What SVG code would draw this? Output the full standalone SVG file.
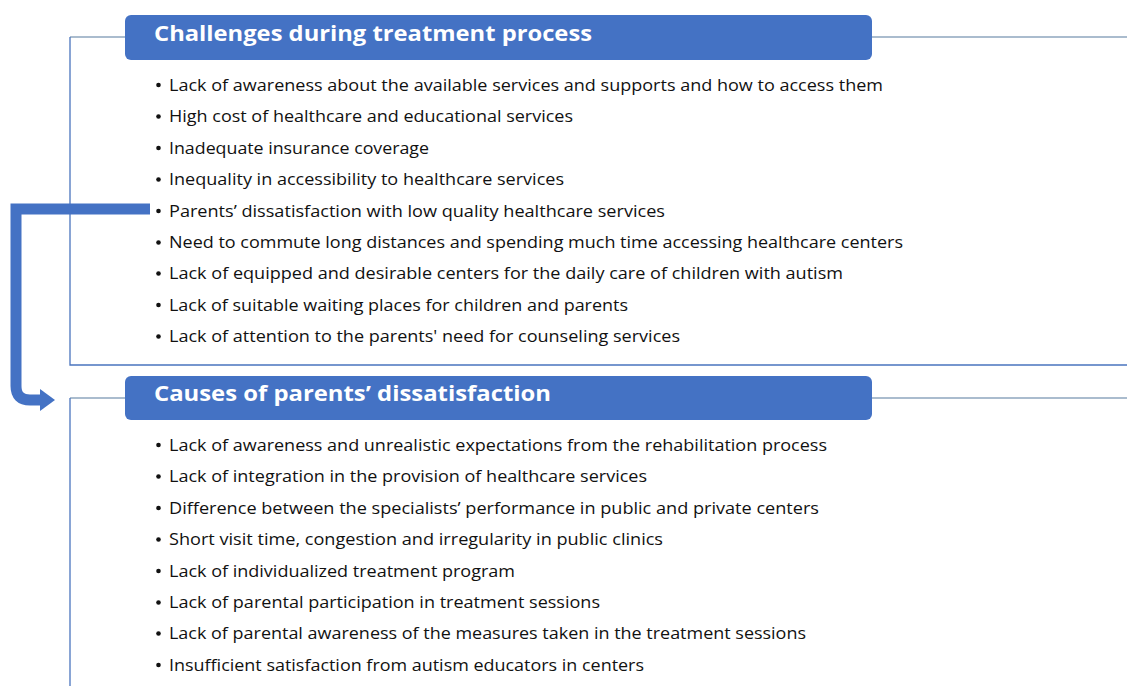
<svg xmlns="http://www.w3.org/2000/svg" width="1127" height="686" viewBox="0 0 1127 686">
<style>
.hdr{fill:#4472C4}
.ttl{font-family:"Open Sans","Noto Sans",sans-serif;font-weight:bold;font-size:21px;fill:#ffffff}
.itm{font-family:"Open Sans","Noto Sans",sans-serif;font-size:16px;fill:#111111}
.frame{fill:none;stroke:#4A74BE;stroke-width:1.3}
.side{fill:none;stroke:#8FA7BF;stroke-width:1.5}
.conn{fill:none;stroke:#4472C4;stroke-width:11}
.dot{fill:#111111}
</style>
<rect width="1127" height="686" fill="#ffffff"/>
<g id="frame1">
<path class="side" d="M70,37 H125 M872,37 H1127"/>
<path class="frame" d="M70,37 V365 H1127"/>
</g>
<g id="frame2">
<path class="side" d="M70,398 H125 M872,398 H1127"/>
<path class="frame" d="M70,398 V686"/>
</g>
<g id="node-challenges">
<rect class="hdr" x="125" y="15" width="747" height="45" rx="6"/>
<text class="ttl" x="154" y="41" textLength="438" lengthAdjust="spacingAndGlyphs">Challenges during treatment process</text>
<g class="dot">
<circle cx="158.5" cy="85" r="2.3"/><circle cx="158.5" cy="116.5" r="2.3"/><circle cx="158.5" cy="148" r="2.3"/>
<circle cx="158.5" cy="179.5" r="2.3"/><circle cx="158.5" cy="211" r="2.3"/><circle cx="158.5" cy="242.5" r="2.3"/>
<circle cx="158.5" cy="273.5" r="2.3"/><circle cx="158.5" cy="305" r="2.3"/><circle cx="158.5" cy="336.5" r="2.3"/>
</g>
<g class="itm">
<text x="169" y="90.5" textLength="714" lengthAdjust="spacingAndGlyphs">Lack of awareness about the available services and supports and how to access them</text>
<text x="169" y="122" textLength="404" lengthAdjust="spacingAndGlyphs">High cost of healthcare and educational services</text>
<text x="169" y="153.5" textLength="260" lengthAdjust="spacingAndGlyphs">Inadequate insurance coverage</text>
<text x="169" y="185" textLength="395" lengthAdjust="spacingAndGlyphs">Inequality in accessibility to healthcare services</text>
<text x="169" y="216.5" textLength="496" lengthAdjust="spacingAndGlyphs">Parents’ dissatisfaction with low quality healthcare services</text>
<text x="169" y="248" textLength="734" lengthAdjust="spacingAndGlyphs">Need to commute long distances and spending much time accessing healthcare centers</text>
<text x="169" y="279" textLength="674" lengthAdjust="spacingAndGlyphs">Lack of equipped and desirable centers for the daily care of children with autism</text>
<text x="169" y="310.5" textLength="459" lengthAdjust="spacingAndGlyphs">Lack of suitable waiting places for children and parents</text>
<text x="169" y="342" textLength="511" lengthAdjust="spacingAndGlyphs">Lack of attention to the parents' need for counseling services</text>
</g>
</g>
<g id="node-causes">
<rect class="hdr" x="125" y="376" width="747" height="44" rx="6"/>
<text class="ttl" x="154" y="401" textLength="397" lengthAdjust="spacingAndGlyphs">Causes of parents’ dissatisfaction</text>
<g class="dot">
<circle cx="158.5" cy="445" r="2.3"/><circle cx="158.5" cy="476.5" r="2.3"/><circle cx="158.5" cy="508" r="2.3"/>
<circle cx="158.5" cy="539.5" r="2.3"/><circle cx="158.5" cy="571" r="2.3"/><circle cx="158.5" cy="602.5" r="2.3"/>
<circle cx="158.5" cy="633.5" r="2.3"/><circle cx="158.5" cy="665" r="2.3"/>
</g>
<g class="itm">
<text x="169" y="450.5" textLength="658" lengthAdjust="spacingAndGlyphs">Lack of awareness and unrealistic expectations from the rehabilitation process</text>
<text x="169" y="482" textLength="478" lengthAdjust="spacingAndGlyphs">Lack of integration in the provision of healthcare services</text>
<text x="169" y="513.5" textLength="650" lengthAdjust="spacingAndGlyphs">Difference between the specialists’ performance in public and private centers</text>
<text x="169" y="545" textLength="494" lengthAdjust="spacingAndGlyphs">Short visit time, congestion and irregularity in public clinics</text>
<text x="169" y="576.5" textLength="346" lengthAdjust="spacingAndGlyphs">Lack of individualized treatment program</text>
<text x="169" y="608" textLength="431" lengthAdjust="spacingAndGlyphs">Lack of parental participation in treatment sessions</text>
<text x="169" y="639" textLength="637" lengthAdjust="spacingAndGlyphs">Lack of parental awareness of the measures taken in the treatment sessions</text>
<text x="169" y="670.5" textLength="475" lengthAdjust="spacingAndGlyphs">Insufficient satisfaction from autism educators in centers</text>
</g>
</g>
<g id="connectors">
<path class="conn" d="M150,209 H16 V386 Q16,400 30,400 H42"/>
<polygon points="40,389 55,400 40,411" fill="#4472C4"/>
</g>
</svg>
